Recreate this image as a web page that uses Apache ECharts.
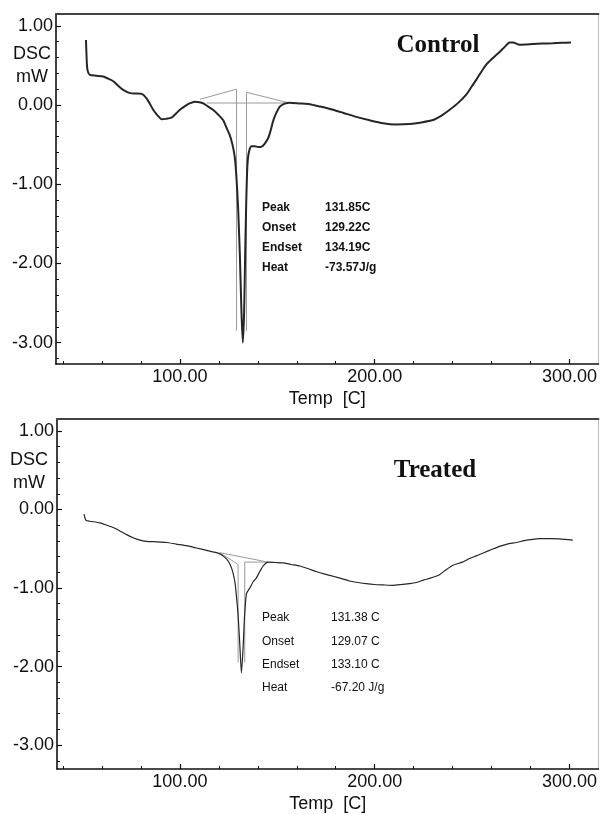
<!DOCTYPE html>
<html><head><meta charset="utf-8">
<script src="https://cdn.jsdelivr.net/npm/echarts@6/dist/echarts.min.js"></script>
<style>html,body{margin:0;padding:0;background:#fff}#c{width:600px;height:814px}</style>
</head><body><div id="c"></div>
<script>
// ---------- data ----------
const controlTemp = [51.8,52.3,52.8,53.8,57.0,60.6,63.5,65.8,68.5,70.9,74.4,77.5,80.4,82.9,84.5,86.3,88.5,90.6,93.0,95.7,98.3,100.5,102.6,105.0,107.7,110.0,112.0,114.5,117.0,120.0,122.2,124.0,125.6,127.0,128.2,129.0,129.9,130.8,131.6,132.3,133.0,133.5,134.0,134.5,135.0,135.8,136.8,138.5,140.2,142.0,143.5,145.3,146.5,147.9,149.5,151.3,153.5,156.4,161.5,166.7,172.0,178.6,184.0,190.6,197.0,204.3,211.0,217.9,224.0,229.9,234.5,238.5,243.0,247.0,250.0,252.2,255.0,257.3,261.0,264.1,267.0,269.2,271.0,274.4,278.0,281.2,286.0,291.4,296.0,300.8];
const controlDsc = [0.82,0.50,0.42,0.38,0.37,0.36,0.33,0.30,0.24,0.19,0.15,0.145,0.14,0.085,0.02,-0.06,-0.13,-0.18,-0.175,-0.16,-0.10,-0.05,-0.013,0.02,0.04,0.035,0.02,-0.02,-0.06,-0.13,-0.19,-0.29,-0.38,-0.50,-0.66,-0.90,-1.30,-1.90,-2.60,-3.00,-2.60,-1.90,-1.30,-0.85,-0.66,-0.56,-0.52,-0.52,-0.53,-0.525,-0.49,-0.42,-0.33,-0.20,-0.10,-0.02,0.015,0.03,0.02,0.01,-0.02,-0.06,-0.10,-0.15,-0.19,-0.23,-0.245,-0.24,-0.22,-0.19,-0.13,-0.06,0.03,0.13,0.24,0.32,0.43,0.51,0.60,0.67,0.74,0.79,0.79,0.76,0.765,0.77,0.775,0.78,0.785,0.79];

const treatedTemp = [50.8,51.8,53.8,59.0,62.5,65.8,69.0,72.7,76.0,79.5,83.0,86.3,90.0,93.2,98.0,103.4,108.5,113.7,118.8,121.5,123.9,125.8,127.3,128.4,129.2,129.9,130.8,131.6,132.5,133.0,133.5,134.2,135.9,137.6,139.3,141.0,142.7,145.3,149.0,153.0,157.0,161.5,166.0,170.0,174.0,178.6,183.0,187.2,191.5,195.7,200.0,204.3,209.4,214.0,218.0,221.4,225.0,229.0,233.3,236.5,240.2,245.0,249.0,252.2,256.0,260.0,264.1,268.0,272.7,278.0,284.6,290.0,295.0,301.7];
const treatedDsc = [-0.06,-0.14,-0.15,-0.17,-0.20,-0.23,-0.27,-0.32,-0.36,-0.39,-0.405,-0.41,-0.415,-0.42,-0.44,-0.46,-0.49,-0.52,-0.55,-0.58,-0.63,-0.70,-0.81,-0.95,-1.15,-1.35,-1.74,-2.08,-1.74,-1.45,-1.25,-1.07,-1.00,-0.92,-0.87,-0.79,-0.72,-0.67,-0.675,-0.68,-0.70,-0.72,-0.755,-0.79,-0.82,-0.85,-0.88,-0.91,-0.93,-0.945,-0.955,-0.96,-0.965,-0.955,-0.945,-0.93,-0.90,-0.87,-0.83,-0.77,-0.71,-0.67,-0.62,-0.59,-0.55,-0.51,-0.47,-0.44,-0.42,-0.39,-0.37,-0.37,-0.375,-0.39];

// peak-analysis construction lines
const controlBaseTemp = [113.7, 156.4];
const controlBaseDsc = [0.025, 0.025];
const controlOnsetTemp = [110.3, 129.1, 129.1];
const controlOnsetDsc = [0.072, 0.20, -2.85];
const controlEndsetTemp = [155.5, 134.2, 134.2];
const controlEndsetDsc = [0.03, 0.16, -2.85];

const treatedBaseTemp = [120.5, 145.3];
const treatedBaseDsc = [-0.55, -0.67];
const treatedOnsetTemp = [120.5, 129.9, 129.9];
const treatedOnsetDsc = [-0.55, -0.70, -1.95];
const treatedEndsetTemp = [145.3, 133.3, 133.3];
const treatedEndsetDsc = [-0.67, -0.67, -1.95];

// annotation texts
const annoLabels = ['Peak', 'Onset', 'Endset', 'Heat'];
const controlAnnoValues = ['131.85C', '129.22C', '134.19C', '-73.57J/g'];
const treatedAnnoValues = ['131.38 C', '129.07 C', '133.10 C', '-67.20 J/g'];
const panelTitles = ['Control', 'Treated'];
const yNameLines = ['DSC', 'mW'];
const xAxisName = 'Temp  [C]';

// ticks
const xMajorTicks = [100, 200, 300];
const xMinorTicks = [40,60,80,100,120,140,160,180,200,220,240,260,280,300];
const yMajorTicks = [1, 0, -1, -2, -3];
const yMinorTicks = [-3.2,-3.0,-2.8,-2.6,-2.4,-2.2,-2.0,-1.8,-1.6,-1.4,-1.2,-1.0,-0.8,-0.6,-0.4,-0.2,0,0.2,0.4,0.6,0.8,1.0];

// ---------- build ----------
const zip = (a, b) => a.map((v, i) => [v, b[i]]);
const FONT = '"Liberation Sans", Arial, sans-serif';
const SERIF = '"Liberation Serif", "Times New Roman", serif';

const panels = [
  {top: 14, left: 56, height: 350, xMin: 36.41, xMax: 314.87, yMin: -3.27, yMax: 1.149},
  {top: 419, left: 57, height: 352, xMin: 36.92, xMax: 314.87, yMin: -3.304, yMax: 1.152}
];

const grids = [], xAxes = [], yAxes = [];
panels.forEach((p, gi) => {
  grids.push({left: p.left, top: p.top, width: 599 - p.left, height: p.height, show: false});
  xAxes.push({
    gridIndex: gi, type: 'value', min: p.xMin, max: p.xMax, position: 'bottom',
    axisLine: {show: true, onZero: false, lineStyle: {color: '#111', width: 1.6}},
    axisTick: {show: true, inside: true, length: 5, customValues: xMajorTicks, lineStyle: {color: '#111', width: 1.2}},
    axisLabel: {show: true, customValues: xMajorTicks, formatter: v => v.toFixed(2), fontSize: 18, color: '#111', fontFamily: FONT, margin: 4},
    splitLine: {show: false},
    name: xAxisName, nameLocation: 'middle', nameGap: 26,
    nameTextStyle: {fontSize: 18, color: '#111', fontFamily: FONT}
  });
  xAxes.push({
    gridIndex: gi, type: 'value', min: p.xMin, max: p.xMax, position: 'bottom',
    axisLine: {show: false, onZero: false},
    axisTick: {show: true, inside: true, length: 3, customValues: xMinorTicks, lineStyle: {color: '#111', width: 1}},
    axisLabel: {show: false}, splitLine: {show: false}
  });
  xAxes.push({
    gridIndex: gi, type: 'value', min: p.xMin, max: p.xMax, position: 'top',
    axisLine: {show: true, onZero: false, lineStyle: {color: '#444', width: 2}},
    axisTick: {show: false}, axisLabel: {show: false}, splitLine: {show: false}
  });
  yAxes.push({
    gridIndex: gi, type: 'value', min: p.yMin, max: p.yMax, position: 'left',
    axisLine: {show: true, onZero: false, lineStyle: {color: '#111', width: 1.6}},
    axisTick: {show: true, inside: true, length: 5, customValues: yMajorTicks, lineStyle: {color: '#111', width: 1.2}},
    axisLabel: {show: true, customValues: yMajorTicks, formatter: v => v.toFixed(2), fontSize: 18, color: '#111', fontFamily: FONT, margin: 3},
    splitLine: {show: false}
  });
  yAxes.push({
    gridIndex: gi, type: 'value', min: p.yMin, max: p.yMax, position: 'left',
    axisLine: {show: false, onZero: false},
    axisTick: {show: true, inside: true, length: 3, customValues: yMinorTicks, lineStyle: {color: '#111', width: 1}},
    axisLabel: {show: false}, splitLine: {show: false}
  });
  yAxes.push({
    gridIndex: gi, type: 'value', min: p.yMin, max: p.yMax, position: 'right',
    axisLine: {show: true, onZero: false, lineStyle: {color: '#bbb', width: 1}},
    axisTick: {show: false}, axisLabel: {show: false}, splitLine: {show: false}
  });
});

function guide(t, d, gi) {
  return {type: 'line', xAxisIndex: gi * 3, yAxisIndex: gi * 3, data: zip(t, d), symbol: 'none',
    lineStyle: {color: '#9a9a9a', width: 1}, z: 1, silent: true};
}
const series = [
  guide(controlBaseTemp, controlBaseDsc, 0),
  guide(controlOnsetTemp, controlOnsetDsc, 0),
  guide(controlEndsetTemp, controlEndsetDsc, 0),
  guide(treatedBaseTemp, treatedBaseDsc, 1),
  guide(treatedOnsetTemp, treatedOnsetDsc, 1),
  guide(treatedEndsetTemp, treatedEndsetDsc, 1),
  {type: 'line', xAxisIndex: 0, yAxisIndex: 0, data: zip(controlTemp, controlDsc), symbol: 'none',
    smooth: 0.2, lineStyle: {color: '#262626', width: 2}, z: 3},
  {type: 'line', xAxisIndex: 3, yAxisIndex: 3, data: zip(treatedTemp, treatedDsc), symbol: 'none',
    smooth: 0.2, lineStyle: {color: '#262626', width: 1.2}, z: 3}
];

const graphic = [];
function txt(x, y, s, font, align) {
  graphic.push({type: 'text', x: x, y: y, style: {text: s, font: font, fill: '#111', textAlign: align || 'left', textVerticalAlign: 'middle'}});
}
// panel titles
txt(438, 46, panelTitles[0], 'bold 25px ' + SERIF, 'center');
txt(435, 471, panelTitles[1], 'bold 25px ' + SERIF, 'center');
// y names
txt(32, 54, yNameLines[0], '18px ' + FONT, 'center');
txt(32, 77, yNameLines[1], '18px ' + FONT, 'center');
txt(29, 460, yNameLines[0], '18px ' + FONT, 'center');
txt(29, 483, yNameLines[1], '18px ' + FONT, 'center');
// annotations
const cY = [208, 228, 248, 268];
const tY = [618, 642, 665, 688];
annoLabels.forEach((l, i) => {
  txt(262, cY[i], l, 'bold 12px ' + FONT);
  txt(325, cY[i], controlAnnoValues[i], 'bold 12px ' + FONT);
  txt(262, tY[i], l, '12px ' + FONT);
  txt(331, tY[i], treatedAnnoValues[i], '12px ' + FONT);
});

const chart = echarts.init(document.getElementById('c'), null, {renderer: 'canvas'});
chart.setOption({
  animation: false,
  backgroundColor: '#fff',
  grid: grids, xAxis: xAxes, yAxis: yAxes, series: series, graphic: graphic
});
</script>
</body></html>
